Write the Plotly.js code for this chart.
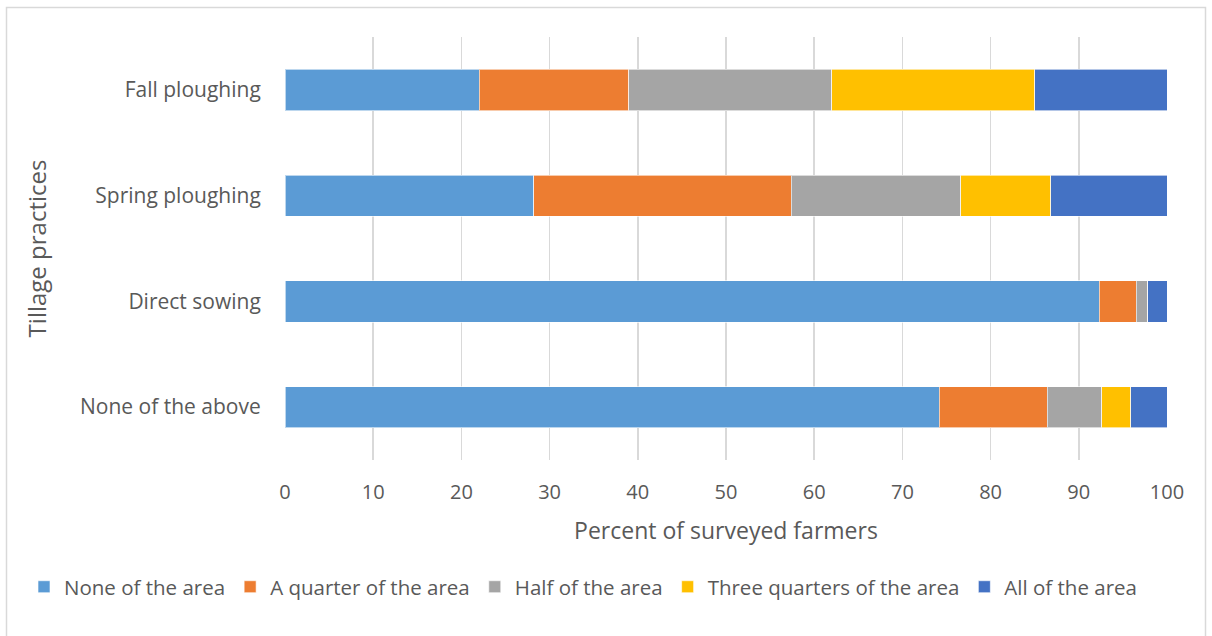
<!DOCTYPE html>
<html>
<head>
<meta charset="utf-8">
<script src="https://cdn.plot.ly/plotly-3.0.1.min.js"></script>
<style>html,body{margin:0;padding:0;background:#fff;}#chart{width:1212px;height:636px;}</style>
</head>
<body>
<div id="chart"></div>
<script>
const categories = ["None of the above", "Direct sowing", "Spring ploughing", "Fall ploughing"];
const seriesNames = ["None of the area", "A quarter of the area", "Half of the area", "Three quarters of the area", "All of the area"];
const noneOfArea = [74.2, 92.3, 28.2, 22];
const quarterOfArea = [12.2, 4.2, 29.2, 17];
const halfOfArea = [6.2, 1.3, 19.2, 23];
const threeQuartersOfArea = [3.3, 0, 10.2, 23];
const allOfArea = [4.1, 2.2, 13.2, 15];
const colors = ["#5b9bd5", "#ed7d31", "#a5a5a5", "#ffc000", "#4472c4"];
const xTicks = [0, 10, 20, 30, 40, 50, 60, 70, 80, 90, 100];

const values = [noneOfArea, quarterOfArea, halfOfArea, threeQuartersOfArea, allOfArea];
const traces = values.map((v, i) => ({
  type: 'bar',
  orientation: 'h',
  name: seriesNames[i],
  y: categories,
  x: v,
  marker: {color: colors[i], line: {color: 'rgba(255,255,255,0.6)', width: 1}},
  hoverinfo: 'x+name'
}));

const layout = {
  width: 1212, height: 636,
  margin: {l: 285, r: 45, t: 37, b: 176},
  barmode: 'stack',
  bargap: 0.61,
  paper_bgcolor: '#fff',
  plot_bgcolor: '#fff',
  font: {family: 'Open Sans, sans-serif', size: 20, color: '#595959'},
  xaxis: {
    range: [0, 100],
    tickvals: xTicks,
    ticktext: xTicks.map(String),
    showgrid: true,
    gridcolor: '#d9d9d9',
    gridwidth: 1.5,
    zeroline: false,
    showline: false,
    ticks: 'outside', ticklen: 14, tickcolor: 'rgba(0,0,0,0)',
    tickfont: {size: 20, color: '#595959'},
    title: {text: 'Percent of surveyed farmers', font: {size: 23, color: '#595959'}, standoff: 18},
    fixedrange: true
  },
  yaxis: {
    categoryorder: 'array',
    categoryarray: categories,
    showgrid: false,
    zeroline: false,
    showline: false,
    ticks: 'outside', ticklen: 19, tickcolor: 'rgba(0,0,0,0)',
    tickfont: {size: 21, color: '#595959'},
    title: {text: 'Tillage practices', font: {size: 24, color: '#595959'}, standoff: 26},
    fixedrange: true
  },
  legend: {
    orientation: 'h',
    x: (24 - 285) / 882, xanchor: 'left',
    y: -0.30, yanchor: 'middle',
    traceorder: 'normal',
    itemwidth: 30,
    font: {size: 20.5, color: '#595959'}
  },
  shapes: [{
    type: 'rect', xref: 'paper', yref: 'paper',
    x0: (6.5 - 285) / 882, x1: (1205.5 - 285) / 882,
    y0: (460 - 645) / 423, y1: (460 - 7.5) / 423,
    line: {color: '#d9d9d9', width: 1.5},
    fillcolor: 'rgba(0,0,0,0)',
    layer: 'below'
  }]
};

Plotly.newPlot('chart', traces, layout, {displayModeBar: false, staticPlot: true});
</script>
</body>
</html>
